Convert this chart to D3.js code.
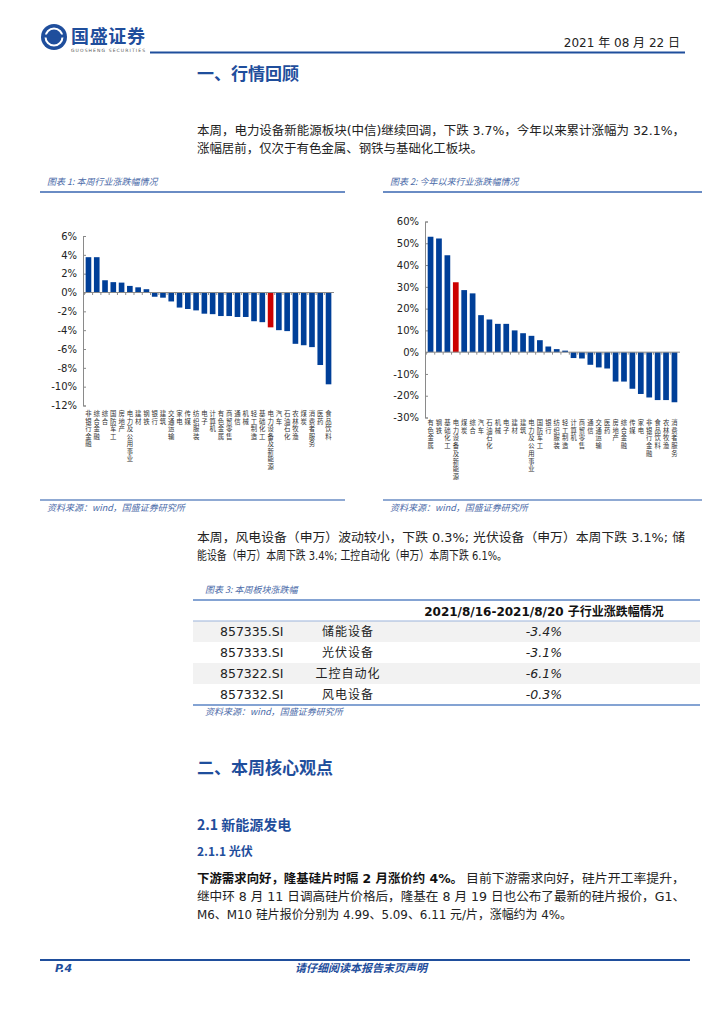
<!DOCTYPE html>
<html>
<head>
<meta charset="utf-8">
<script src="https://cdn.jsdelivr.net/npm/d3@7"></script>
<style>
body{margin:0;background:#fff;}
svg text{font-family:"DejaVu Sans","Noto Sans CJK SC",sans-serif;}
.cn{font-family:"Noto Sans CJK SC",sans-serif;}
</style>
</head>
<body>
<svg id="page" width="724" height="1024"></svg>
<script>
// chart 1: weekly change by industry (%)
var weekCats=["非银行金融","综合金融","综合","国防军工","房地产","电力及公用事业","建材","钢铁","银行","建筑","交通运输","家电","传媒","纺织服装","电子","计算机","有色金属","商贸零售","通信","机械","轻工制造","基础化工","电力设备及新能源","汽车","石油石化","农林牧渔","煤炭","消费者服务","医药","食品饮料"];
var weekVals=[3.75,3.75,1.3,1.1,1.05,0.7,0.55,0.35,-0.45,-0.55,-0.95,-1.6,-1.75,-1.9,-2.25,-2.3,-2.5,-2.5,-2.6,-2.6,-3.05,-3.15,-3.7,-4.0,-4.1,-5.45,-5.6,-5.8,-7.7,-9.75];
var weekTicks=[6,4,2,0,-2,-4,-6,-8,-10,-12];

// chart 2: year-to-date change by industry (%)
var ytdCats=["有色金属","钢铁","基础化工","电力设备及新能源","煤炭","综合","汽车","石油石化","机械","电子","建材","建筑","电力及公用事业","国防军工","银行","纺织服装","轻工制造","计算机","商贸零售","通信","交通运输","医药","房地产","综合金融","传媒","家电","非银行金融","食品饮料","农林牧渔","消费者服务"];
var ytdVals=[53,52.2,44.5,32.1,28.5,27,17,15,13,13,10,8.7,7.5,5.5,2.6,1.4,0.7,-2.7,-2.9,-5.8,-7,-7.5,-13.5,-13.5,-16.8,-19.2,-20.8,-22,-22,-23];
var ytdTicks=[60,50,40,30,20,10,0,-10,-20,-30];

var highlight="电力设备及新能源";

// table 3
var tblCodes=["857335.SI","857333.SI","857322.SI","857332.SI"];
var tblNames=["储能设备","光伏设备","工控自动化","风电设备"];
var tblVals=["-3.4%","-3.1%","-6.1%","-0.3%"];

var BLUE="#1f4e9c", BAR="#003f98", RED="#cc0000", CAP="#4a6aa8";
var svg=d3.select("#page");

// ---------- header ----------
var logo=svg.append("g");
logo.append("circle").attr("cx",54).attr("cy",37).attr("r",13).attr("fill",BLUE);
logo.append("circle").attr("cx",54).attr("cy",37).attr("r",8.5).attr("fill","none").attr("stroke","#fff").attr("stroke-width",2);
logo.append("text").attr("x",54).attr("y",42.5).attr("text-anchor","middle").attr("fill",BLUE)
  .attr("font-size",15).attr("font-weight","bold").text("S");
logo.append("rect").attr("x",42).attr("y",34.5).attr("width",24).attr("height",3).attr("fill",BLUE);
logo.append("text").attr("class","cn").attr("x",71).attr("y",43).attr("font-size",18).attr("font-weight","bold")
  .attr("fill",BLUE).attr("textLength",74).text("国盛证券");
logo.append("text").attr("x",71).attr("y",52).attr("font-size",4.5).attr("fill","#555")
  .attr("textLength",74).text("GUOSHENG SECURITIES");
svg.append("line").attr("x1",150).attr("x2",685).attr("y1",52.5).attr("y2",52.5).attr("stroke",BLUE).attr("stroke-width",2);
svg.append("text").attr("x",680).attr("y",47).attr("text-anchor","end").attr("font-size",12).attr("fill","#222")
  .text("2021 年 08 月 22 日");

function heading(txt,x,y,size){
  svg.append("text").attr("class","cn").attr("x",x).attr("y",y).attr("font-size",size)
    .attr("font-weight","bold").attr("fill",BLUE).text(txt);
}
function line(txt,x,y,len,opt){
  opt=opt||{};
  var t=svg.append("text").attr("x",x).attr("y",y).attr("font-size",opt.size||12.5)
    .attr("fill",opt.fill||"#222").text(txt);
  if(opt.bold) t.attr("font-weight","bold");
  if(len) t.attr("textLength",len).attr("lengthAdjust","spacingAndGlyphs");
  return t;
}

heading("一、行情回顾",197,80,17);
line("本周，电力设备新能源板块(中信)继续回调，下跌 3.7%，今年以来累计涨幅为 32.1%，",197,135,488);
line("涨幅居前，仅次于有色金属、钢铁与基础化工板块。",197,153,286);

// ---------- captions ----------
function caption(txt,x,y){
  svg.append("text").attr("class","cn").attr("x",x).attr("y",y).attr("font-size",9)
    .attr("font-style","italic").attr("fill",CAP).text(txt);
}
caption("图表 1:  本周行业涨跌幅情况",47,185);
caption("图表 2:  今年以来行业涨跌幅情况",390,185);
[[40,345],[383,702]].forEach(function(s){
  svg.append("line").attr("x1",s[0]).attr("x2",s[1]).attr("y1",192).attr("y2",192).attr("stroke","#6a8cc4").attr("stroke-width",2);
  svg.append("line").attr("x1",s[0]).attr("x2",s[1]).attr("y1",500).attr("y2",500).attr("stroke","#6a8cc4").attr("stroke-width",1.5);
});
caption("资料来源：wind，国盛证券研究所",47,511);
caption("资料来源：wind，国盛证券研究所",390,511);

// ---------- bar charts ----------
function barChart(cats,vals,ticks,o){
  var g=svg.append("g");
  var x=d3.scaleBand().domain(cats).range(o.xr).padding(0.32);
  var y=d3.scaleLinear().domain(o.yd).range(o.yr);
  var ax=g.append("g").attr("transform","translate("+o.xr[0]+",0)")
    .call(d3.axisRight(y).tickValues(ticks).tickSize(3).tickFormat(function(d){return d+"%";}));
  ax.select(".domain").attr("stroke","#8a8a8a");
  ax.selectAll(".tick line").attr("stroke","#8a8a8a");
  ax.selectAll(".tick text").attr("x",-6).attr("text-anchor","end").attr("font-size",10).attr("fill","#222");
  g.selectAll("rect.bar").data(vals).enter().append("rect").attr("class","bar")
    .attr("x",function(d,i){return x(cats[i]);})
    .attr("width",x.bandwidth())
    .attr("y",function(d){return y(Math.max(0,d));})
    .attr("height",function(d){return Math.abs(y(d)-y(0));})
    .attr("fill",function(d,i){return cats[i]===highlight?RED:BAR;});
  g.append("line").attr("x1",o.xr[0]).attr("x2",o.xr[1]).attr("y1",y(0)).attr("y2",y(0)).attr("stroke","#8a8a8a");
  g.selectAll("line.cx").data(cats).enter().append("line").attr("class","cx")
    .attr("x1",function(d){return x(d)-x.step()*x.paddingInner()/2;})
    .attr("x2",function(d){return x(d)-x.step()*x.paddingInner()/2;})
    .attr("y1",y(0)).attr("y2",y(0)+2.5).attr("stroke","#8a8a8a");
  // vertical category labels, one character per row
  var lab=g.selectAll("text.cat").data(cats).enter().append("text").attr("class","cat cn")
    .attr("text-anchor","middle").attr("font-size",o.fs).attr("fill","#333");
  lab.each(function(d){
    var t=d3.select(this), cx=x(d)+x.bandwidth()/2;
    d.split("").forEach(function(ch,i){
      t.append("tspan").attr("x",cx).attr("y",o.ly+i*o.step).text(ch);
    });
  });
}
barChart(weekCats,weekVals,weekTicks,{xr:[83,334],yd:[-12,6],yr:[405.5,236],ly:416,step:7.5,fs:6.4});
barChart(ytdCats,ytdVals,ytdTicks,{xr:[425,680],yd:[-30,60],yr:[417.5,221.5],ly:425,step:7.7,fs:6.3});

// ---------- paragraph 2 ----------
line("本周，风电设备（申万）波动较小，下跌 0.3%; 光伏设备（申万）本周下跌 3.1%; 储",197,542,488);
line("能设备（申万）本周下跌 3.4%; 工控自动化（申万）本周下跌 6.1%。",197,560,310);

// ---------- table ----------
caption("图表 3:  本周板块涨跌幅",205,593);
var rowY=d3.scaleBand().domain(d3.range(tblCodes.length)).range([621,705]);
svg.selectAll("rect.row").data(tblCodes).enter().append("rect").attr("class","row")
  .attr("x",193).attr("width",507).attr("y",function(d,i){return rowY(i);}).attr("height",rowY.bandwidth())
  .attr("fill",function(d,i){return i%2===0?"#f2f2f2":"#fff";});
[[600,1.5,"#5b84c4"],[621,1,"#9bb3da"],[705,1.5,"#5b84c4"]].forEach(function(l){
  svg.append("line").attr("x1",193).attr("x2",700).attr("y1",l[0]).attr("y2",l[0]).attr("stroke",l[2]).attr("stroke-width",l[1]);
});
svg.append("text").attr("x",544).attr("y",616).attr("text-anchor","middle").attr("font-size",12).attr("font-weight","bold")
  .attr("fill","#111").text("2021/8/16-2021/8/20 子行业涨跌幅情况");
tblCodes.forEach(function(c,i){
  var yy=rowY(i)+rowY.bandwidth()/2+4.5;
  svg.append("text").attr("x",220).attr("y",yy).attr("font-size",12.5).attr("fill","#222").text(c);
  svg.append("text").attr("class","cn").attr("x",348).attr("y",yy).attr("text-anchor","middle").attr("font-size",12)
    .attr("letter-spacing",1).attr("fill","#222").text(tblNames[i]);
  svg.append("text").attr("x",544).attr("y",yy).attr("text-anchor","middle").attr("font-size",12.5)
    .attr("font-style","italic").attr("fill","#222").text(tblVals[i]);
});
caption("资料来源：wind，国盛证券研究所",205,715);

// ---------- section 2 ----------
heading("二、本周核心观点",197,774,17);
heading("2.1 新能源发电",197,830,14);
heading("2.1.1 光伏",197,856,12);
line("下游需求向好，隆基硅片时隔 2 月涨价约 4%。",197,883,266,{bold:true,fill:"#111"});
line("目前下游需求向好，硅片开工率提升，",466,883,219);
line("继中环 8 月 11 日调高硅片价格后，隆基在 8 月 19 日也公布了最新的硅片报价，G1、",197,901,488);
line("M6、M10 硅片报价分别为 4.99、5.09、6.11 元/片，涨幅约为 4%。",197,919,375);

// ---------- footer ----------
svg.append("line").attr("x1",40).attr("x2",690).attr("y1",960).attr("y2",960).attr("stroke",BLUE).attr("stroke-width",2);
svg.append("text").attr("x",55).attr("y",972).attr("font-size",11).attr("font-weight","bold").attr("font-style","italic")
  .attr("fill",BLUE).text("P.4");
svg.append("text").attr("class","cn").attr("x",361).attr("y",972).attr("text-anchor","middle").attr("font-size",11)
  .attr("font-weight","bold").attr("font-style","italic").attr("fill",BLUE).text("请仔细阅读本报告末页声明");
</script>
</body>
</html>
